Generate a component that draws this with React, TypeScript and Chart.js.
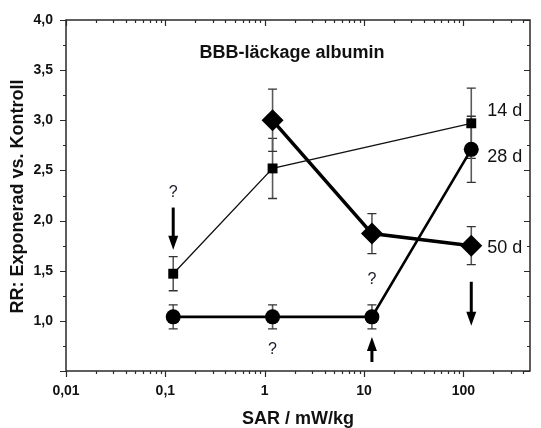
import React, { useEffect, useRef } from "react";
import { Chart, registerables } from "chart.js";

Chart.register(...registerables);

// ---- data ----
const sarDose = [0.12, 1.2, 12, 120];
const rr14d = [1.47, 2.52, null, 2.97];
const err14d = [0.17, 0.3, null, 0.35];
const rr28d = [1.04, 1.04, 1.04, 2.71];
const err28d = [0.12, 0.12, 0.12, 0.33];
const rr50d = [null, 3.0, 1.87, 1.75];
const err50d = [null, 0.31, 0.2, 0.19];

const seriesNames = ["14 d", "28 d", "50 d"];
const seriesLabelY = [3.09, 2.63, 1.73];

const xTickValues = [0.01, 0.1, 1, 10, 100];
const xTickLabels = ["0,01", "0,1", "1", "10", "100"];
const yTickValues = [1.0, 1.5, 2.0, 2.5, 3.0, 3.5, 4.0];
const yTickLabels = ["1,0", "1,5", "2,0", "2,5", "3,0", "3,5", "4,0"];

const questionMarks = [
  { x: 0.12, y: 2.28 },
  { x: 1.2, y: 0.71 },
  { x: 12, y: 1.41 },
];
const arrows = [
  { x: 0.12, from: 2.13, to: 1.71 },
  { x: 120, from: 1.39, to: 0.95 },
  { x: 12, from: 0.59, to: 0.84 },
];

const titleText = "BBB-läckage albumin";
const xTitle = "SAR / mW/kg";
const yTitle = "RR: Exponerad vs. Kontroll";

const X_MIN = 0.01;
const X_MAX = 468;
const Y_MIN = 0.5;
const Y_MAX = 4.0;

const FONT = "'Liberation Sans', Arial, sans-serif";

function toPoints(vals: (number | null)[], errs: (number | null)[]) {
  const pts: any[] = [];
  vals.forEach((v, i) => {
    if (v !== null) pts.push({ x: sarDose[i], y: v, e: errs[i] });
  });
  return pts;
}

const overlayPlugin = {
  id: "overlay",
  beforeDatasetsDraw(chart: any) {
    const ctx = chart.ctx;
    const xs = chart.scales.x;
    const ys = chart.scales.y;
    ctx.save();
    chart.data.datasets.forEach((ds: any) => {
      ds.data.forEach((p: any) => {
        if (p.e == null) return;
        const px = xs.getPixelForValue(p.x);
        const yHi = ys.getPixelForValue(p.y + p.e);
        const yLo = ys.getPixelForValue(p.y - p.e);
        ctx.strokeStyle = "#5a5a5a";
        ctx.lineWidth = 1.6;
        ctx.beginPath();
        ctx.moveTo(px, yHi);
        ctx.lineTo(px, yLo);
        ctx.stroke();
        ctx.strokeStyle = "#333";
        ctx.lineWidth = 1.3;
        ctx.beginPath();
        ctx.moveTo(px - 4.5, yHi);
        ctx.lineTo(px + 4.5, yHi);
        ctx.moveTo(px - 4.5, yLo);
        ctx.lineTo(px + 4.5, yLo);
        ctx.stroke();
      });
    });
    ctx.restore();
  },
  afterDraw(chart: any) {
    const ctx = chart.ctx;
    const xs = chart.scales.x;
    const ys = chart.scales.y;
    const a = chart.chartArea;
    ctx.save();

    // frame
    ctx.strokeStyle = "#2a2a2a";
    ctx.lineWidth = 1.5;
    ctx.strokeRect(a.left, a.top, a.right - a.left, a.bottom - a.top);

    // x ticks (log)
    ctx.lineWidth = 1.2;
    ctx.beginPath();
    for (let d = -2; d <= 2; d++) {
      for (let k = 1; k <= 9; k++) {
        const v = k * Math.pow(10, d);
        if (v < X_MIN - 1e-9 || v > X_MAX) continue;
        const px = Math.round(xs.getPixelForValue(v)) + 0.5;
        const len = k === 1 ? 6 : 3;
        ctx.moveTo(px, a.bottom);
        ctx.lineTo(px, a.bottom + len);
        ctx.moveTo(px, a.top);
        ctx.lineTo(px, a.top + len);
      }
    }
    // y ticks
    for (let v = Y_MIN; v <= Y_MAX + 1e-9; v += 0.25) {
      const py = Math.round(ys.getPixelForValue(v)) + 0.5;
      const major = Math.abs(v * 2 - Math.round(v * 2)) < 1e-6;
      const len = major ? 6 : 3;
      ctx.moveTo(a.left, py);
      ctx.lineTo(a.left - len, py);
      ctx.moveTo(a.right, py);
      ctx.lineTo(a.right - len, py);
    }
    ctx.stroke();

    // tick labels
    ctx.fillStyle = "#111";
    ctx.font = `bold 14px ${FONT}`;
    ctx.textAlign = "center";
    ctx.textBaseline = "middle";
    xTickValues.forEach((v, i) => {
      ctx.fillText(xTickLabels[i], xs.getPixelForValue(v), a.bottom + 20);
    });
    ctx.textAlign = "right";
    yTickValues.forEach((v, i) => {
      ctx.fillText(yTickLabels[i], a.left - 13, ys.getPixelForValue(v));
    });

    // axis titles
    ctx.font = `bold 18px ${FONT}`;
    ctx.textAlign = "center";
    ctx.fillText(xTitle, (a.left + a.right) / 2, a.bottom + 48);
    ctx.save();
    ctx.translate(18, (a.top + a.bottom) / 2 + 1);
    ctx.rotate(-Math.PI / 2);
    ctx.fillText(yTitle, 0, 0);
    ctx.restore();

    // chart title
    ctx.font = `bold 18px ${FONT}`;
    ctx.fillText(titleText, (a.left + a.right) / 2 - 6, a.top + 33);

    // series labels
    ctx.font = `18px ${FONT}`;
    ctx.textAlign = "left";
    const lx = xs.getPixelForValue(sarDose[sarDose.length - 1]) + 16;
    seriesNames.forEach((n, i) => {
      ctx.fillText(n, lx, ys.getPixelForValue(seriesLabelY[i]));
    });

    // question marks
    ctx.font = `16px ${FONT}`;
    ctx.textAlign = "center";
    ctx.fillStyle = "#1a1a2a";
    questionMarks.forEach((q) => {
      ctx.fillText("?", xs.getPixelForValue(q.x), ys.getPixelForValue(q.y));
    });

    // arrows
    ctx.fillStyle = "#000";
    ctx.strokeStyle = "#000";
    arrows.forEach((ar) => {
      const px = xs.getPixelForValue(ar.x);
      const y0 = ys.getPixelForValue(ar.from);
      const y1 = ys.getPixelForValue(ar.to);
      const dir = y1 > y0 ? 1 : -1;
      const headLen = 14;
      const headW = 5;
      ctx.lineWidth = 3;
      ctx.beginPath();
      ctx.moveTo(px, y0);
      ctx.lineTo(px, y1 - dir * headLen + dir * 2);
      ctx.stroke();
      ctx.beginPath();
      ctx.moveTo(px, y1);
      ctx.lineTo(px - headW, y1 - dir * headLen);
      ctx.lineTo(px + headW, y1 - dir * headLen);
      ctx.closePath();
      ctx.fill();
    });

    ctx.restore();
  },
};

export default function App() {
  const ref = useRef<HTMLCanvasElement | null>(null);
  useEffect(() => {
    if (!ref.current) return;
    const chart = new Chart(ref.current, {
      type: "line",
      data: {
        datasets: [
          {
            label: seriesNames[0],
            data: toPoints(rr14d, err14d),
            borderColor: "#111",
            backgroundColor: "#000",
            borderWidth: 1.3,
            pointStyle: "rect",
            pointRadius: 7,
            pointBorderWidth: 0,
            pointBackgroundColor: "#000",
          },
          {
            label: seriesNames[1],
            data: toPoints(rr28d, err28d),
            borderColor: "#000",
            backgroundColor: "#000",
            borderWidth: 2.6,
            pointStyle: "circle",
            pointRadius: 7.5,
            pointBorderWidth: 0,
            pointBackgroundColor: "#000",
          },
          {
            label: seriesNames[2],
            data: toPoints(rr50d, err50d),
            borderColor: "#000",
            backgroundColor: "#000",
            borderWidth: 3.5,
            pointStyle: "rectRot",
            pointRadius: 11,
            pointBorderWidth: 0,
            pointBackgroundColor: "#000",
          },
        ],
      },
      options: {
        responsive: false,
        animation: false,
        devicePixelRatio: 1,
        layout: { padding: { left: 66, top: 20, right: 1, bottom: 57 } },
        plugins: { legend: { display: false }, tooltip: { enabled: false }, title: { display: false } },
        elements: { line: { tension: 0 } },
        scales: {
          x: { type: "logarithmic", min: X_MIN, max: X_MAX, display: false },
          y: { type: "linear", min: Y_MIN, max: Y_MAX, display: false },
        },
      },
      plugins: [overlayPlugin],
    });
    return () => chart.destroy();
  }, []);
  return (
    <canvas
      ref={ref}
      width={541}
      height={428}
      style={{ position: "absolute", left: 0, top: 0, display: "block", background: "#fff" }}
    />
  );
}
